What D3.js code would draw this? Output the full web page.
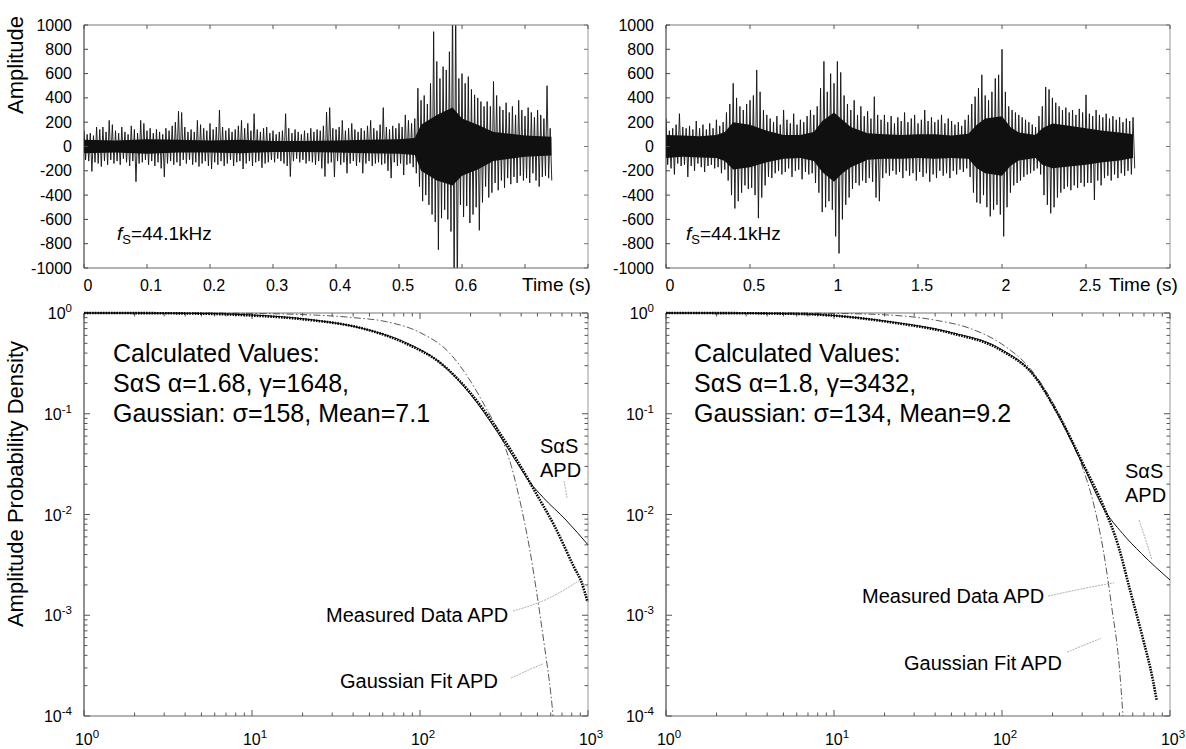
<!DOCTYPE html>
<html><head><meta charset="utf-8">
<script src="https://cdnjs.cloudflare.com/ajax/libs/d3/7.8.5/d3.min.js"></script>
<style>
body{margin:0;background:#fff}
svg{display:block}
text{font-family:"Liberation Sans",Arial,Helvetica,sans-serif;fill:#000}
</style>
</head><body>
<svg id="c" width="1186" height="749"></svg>
<script>
// ---------------- DATA ----------------
const ampTicks = [-1000,-800,-600,-400,-200,0,200,400,600,800,1000];
const timeTicksL = [0,0.1,0.2,0.3,0.4,0.5,0.6];
const timeTicksR = [0,0.5,1,1.5,2,2.5];
const timeMaxL = 0.8, timeMaxR = 3;

// left waveform: peak envelope per 5 ms bin
const binL = 0.005;
const hiL = [130,100,110,90,160,140,160,120,215,180,
 130,110,160,120,100,170,140,110,215,190,
 130,150,110,140,120,100,150,130,170,200,
 290,280,160,120,140,120,215,180,150,130,
 190,140,160,300,160,130,150,120,140,170,
 215,150,190,130,270,140,120,150,160,110,
 130,100,120,130,270,150,110,140,120,100,
 130,110,150,120,140,130,170,283,320,150,
 140,160,215,130,150,190,140,120,150,130,
 170,215,150,130,180,320,160,140,170,150,
 190,160,260,215,190,230,480,380,420,350,
 520,945,700,560,657,630,780,1200,1200,560,
 600,520,575,470,425,400,370,330,370,330,
 535,420,330,300,360,280,330,260,380,300,
 250,320,280,240,300,260,230,500,150];
const loL = [-110,-120,-205,-130,-140,-165,-120,-150,-110,-140,
 -120,-150,-100,-130,-160,-120,-290,-140,-130,-110,
 -150,-120,-160,-130,-180,-250,-140,-120,-150,-130,
 -160,-110,-140,-110,-150,-130,-165,-140,-120,-160,
 -185,-130,-150,-120,-160,-140,-110,-160,-130,-120,
 -185,-140,-120,-160,-130,-120,-175,-140,-130,-110,
 -130,-100,-120,-140,-160,-247,-120,-100,-130,-110,
 -140,-120,-130,-150,-120,-180,-247,-140,-130,-250,
 -120,-150,-130,-220,-140,-120,-160,-130,-220,-140,
 -120,-160,-140,-130,-150,-140,-200,-260,-130,-160,
 -140,-235,-150,-140,-170,-220,-330,-450,-400,-480,
 -560,-620,-850,-590,-520,-600,-700,-1200,-1200,-480,
 -580,-490,-630,-560,-500,-690,-460,-330,-420,-380,
 -300,-360,-280,-340,-260,-310,-250,-300,-240,-280,
 -260,-300,-220,-280,-330,-250,-240,-260,-280];
// left waveform dense core band
const coreL_t  = [0,0.05,0.1,0.15,0.2,0.25,0.3,0.35,0.4,0.45,0.5,0.525,0.535,0.56,0.585,0.6,0.625,0.65,0.7,0.742];
const coreL_hi = [55,50,60,55,50,55,45,45,50,55,60,70,180,260,320,230,180,120,90,80];
const coreL_lo = [-55,-50,-60,-50,-50,-55,-45,-45,-50,-55,-60,-70,-200,-280,-320,-240,-190,-120,-85,-75];

// right waveform: peak envelope per 20 ms bin
const binR = 0.02;
const hiR = [230,130,150,180,270,160,150,170,140,210,
 150,180,140,190,150,220,170,200,280,350,
 520,400,330,300,350,380,420,630,450,300,
 260,230,200,250,180,300,220,190,270,180,
 220,200,250,300,260,330,480,700,450,600,
 520,700,610,420,350,300,380,260,330,250,
 290,230,410,260,220,260,200,250,190,240,
 210,280,200,230,260,190,220,300,210,240,
 200,220,260,190,230,210,180,200,170,220,
 260,350,410,480,590,420,380,450,560,590,
 800,450,330,300,280,260,240,220,200,180,
 160,250,330,490,470,400,360,330,300,320,
 280,300,260,310,280,425,270,250,300,260,
 240,270,230,250,220,240,200,230,210,240];
const loR = [-150,-180,-230,-140,-160,-150,-250,-160,-200,-140,
 -170,-210,-160,-150,-180,-170,-220,-190,-280,-400,
 -510,-450,-380,-320,-350,-340,-400,-590,-420,-320,
 -250,-260,-220,-200,-230,-210,-180,-250,-200,-190,
 -270,-210,-230,-220,-300,-380,-540,-500,-450,-520,
 -740,-880,-600,-480,-420,-350,-300,-320,-280,-300,
 -260,-290,-420,-450,-260,-220,-240,-200,-230,-210,
 -260,-200,-240,-220,-280,-210,-250,-220,-290,-230,
 -260,-200,-240,-220,-260,-200,-230,-190,-210,-180,
 -250,-380,-460,-470,-400,-500,-575,-520,-480,-560,
 -740,-500,-380,-320,-300,-280,-250,-230,-220,-200,
 -180,-230,-400,-480,-550,-500,-420,-380,-350,-330,
 -360,-320,-340,-300,-330,-300,-300,-440,-280,-320,
 -260,-240,-280,-230,-260,-220,-240,-200,-230,-180];
// right waveform dense core band
const coreR_t  = [0,0.1,0.2,0.3,0.35,0.4,0.5,0.6,0.7,0.8,0.88,0.93,1.0,1.05,1.1,1.2,1.3,1.4,1.5,1.6,1.7,1.8,1.85,1.9,2.0,2.05,2.1,2.2,2.24,2.3,2.4,2.5,2.6,2.7,2.78];
const coreR_hi = [95,90,85,95,120,200,180,130,95,95,120,210,280,220,160,110,100,95,100,100,90,105,180,230,250,160,115,95,150,190,170,150,130,115,100];
const coreR_lo = [-95,-85,-90,-95,-120,-190,-170,-130,-100,-95,-120,-210,-290,-220,-170,-110,-100,-100,-95,-100,-95,-100,-180,-220,-240,-160,-115,-95,-150,-180,-165,-150,-130,-115,-95];

// APD curves (amplitude, probability)
const apdTicksX = [1,10,100,1000];
const apdTicksY = [1e-4,1e-3,1e-2,1e-1,1];
const measL_amp = [1,2,5,10,21,46,82,132,200,290,376,490,634,826,918,993];
const measL_p   = [1,0.998,0.985,0.945,0.86,0.70,0.50,0.32,0.16,0.069,0.035,0.0163,0.0076,0.0030,0.0021,0.00136];
const sasL_amp  = [1,2,5,10,21,46,82,132,200,290,376,450,540,740,1000];
const sasL_p    = [1,0.998,0.99,0.955,0.87,0.70,0.51,0.32,0.155,0.065,0.033,0.021,0.0148,0.0088,0.005];
const gaussL_amp= [1,5,10,20,40,63,100,150,200,250,300,350,400,450,500,550,600,620];
const gaussL_p  = [1,0.998,0.99,0.965,0.90,0.82,0.64,0.40,0.21,0.11,0.062,0.030,0.012,0.0045,0.0015,0.0005,0.00017,0.0001];
const measR_amp = [1,2,5,8,22.8,50,98,157,215,309,402,494,578,693,790,832];
const measR_p   = [1,0.998,0.985,0.965,0.80,0.63,0.43,0.233,0.10,0.030,0.012,0.0048,0.00178,0.00057,0.00023,0.000145];
const sasR_amp  = [1,2,5,8,22.8,50,98,157,215,309,402,521,676,1000];
const sasR_p    = [1,0.998,0.985,0.965,0.81,0.64,0.44,0.235,0.098,0.029,0.0115,0.0065,0.0041,0.00224];
const gaussR_amp= [1,5,10,20,40,65,100,150,200,250,300,350,400,450,500,525];
const gaussR_p  = [1,0.998,0.99,0.96,0.85,0.70,0.49,0.27,0.13,0.062,0.030,0.013,0.0045,0.0012,0.0003,0.0001];

const calcL = ["Calculated Values:", "S\u03b1S \u03b1=1.68, \u03b3=1648,", "Gaussian: \u03c3=158, Mean=7.1"];
const calcR = ["Calculated Values:", "S\u03b1S \u03b1=1.8, \u03b3=3432,", "Gaussian: \u03c3=134, Mean=9.2"];

// leader lines: [amp,p] triples
const leadL = {sas:[[719,0.0215],[735,0.018],[750,0.0146]], meas:[[358,0.0011],[578,0.0014],[896,0.00224]], gauss:[[348,0.000238],[450,0.00029],[540,0.00033]]};
const leadR = {sas:[[654,0.0088],[720,0.0055],[781,0.00353]], meas:[[188,0.00155],[330,0.0019],[464,0.0021]], gauss:[[244,0.00043],[320,0.00052],[388,0.00059]]};

// ---------------- DRAW ----------------
const svg = d3.select('#c');
svg.append('rect').attr('width',1186).attr('height',749).attr('fill','#fff');
const FONT_TICK = 16;

function frame(g, p){
  g.append('line').attr('x1',p.x0).attr('x2',p.x1).attr('y1',p.y0).attr('y2',p.y0).attr('stroke','#777').attr('stroke-width',1);
  g.append('line').attr('x1',p.x1).attr('x2',p.x1).attr('y1',p.y0).attr('y2',p.y1).attr('stroke','#999').attr('stroke-width',1);
  g.append('line').attr('x1',p.x0).attr('x2',p.x1).attr('y1',p.y1).attr('y2',p.y1).attr('stroke','#666').attr('stroke-width',1);
  g.append('line').attr('x1',p.x0).attr('x2',p.x0).attr('y1',p.y0).attr('y2',p.y1).attr('stroke','#222').attr('stroke-width',1);
}

function wavePanel(p, tmax, tTicks, hi, lo, bin, core, id, sw){
  const x = d3.scaleLinear().domain([0,tmax]).range([p.x0,p.x1]);
  const y = d3.scaleLinear().domain([-1000,1000]).range([p.y1,p.y0]);
  const g = svg.append('g');
  g.append('clipPath').attr('id',id).append('rect')
    .attr('x',p.x0).attr('y',p.y0).attr('width',p.x1-p.x0).attr('height',p.y1-p.y0);
  const cg = g.append('g').attr('clip-path',`url(#${id})`);
  const area = d3.area().x(d=>x(d[0])).y0(d=>y(d[2])).y1(d=>y(d[1])).curve(d3.curveLinear);
  cg.append('path').attr('d', area(d3.zip(core[0],core[1],core[2]))).attr('fill','#111');
  const pts = [];
  hi.forEach((h,i)=>{ pts.push([i*bin,h]); pts.push([i*bin+bin/2, lo[i]]); });
  cg.append('path')
    .attr('d', d3.line().x(d=>x(d[0])).y(d=>y(d[1]))(pts))
    .attr('fill','none').attr('stroke','#111').attr('stroke-width',sw).attr('stroke-linejoin','miter');
  frame(g,p);
  g.selectAll('.yt').data(ampTicks).enter().append('line')
    .attr('x1',p.x0).attr('x2',p.x0+4).attr('y1',d=>y(d)).attr('y2',d=>y(d)).attr('stroke','#444');
  g.selectAll('.yt2').data(ampTicks).enter().append('line')
    .attr('x1',p.x1).attr('x2',p.x1-4).attr('y1',d=>y(d)).attr('y2',d=>y(d)).attr('stroke','#777');
  g.selectAll('.yl').data(ampTicks).enter().append('text')
    .attr('x',p.x0-12).attr('y',d=>y(d)+5.5).attr('text-anchor','end').attr('font-size',FONT_TICK)
    .text(d=>String(d));
  const allT = d3.range(0, tmax+1e-9, tTicks[1]-tTicks[0]);
  g.selectAll('.xt').data(allT).enter().append('line')
    .attr('x1',d=>x(d)).attr('x2',d=>x(d)).attr('y1',p.y0).attr('y2',p.y0+4).attr('stroke','#555');
  g.selectAll('.xt2').data(allT).enter().append('line')
    .attr('x1',d=>x(d)).attr('x2',d=>x(d)).attr('y1',p.y1).attr('y2',p.y1-4).attr('stroke','#555');
  g.selectAll('.xl').data(tTicks).enter().append('text')
    .attr('x',d=>x(d)+4).attr('y',p.y1+23).attr('text-anchor','middle').attr('font-size',FONT_TICK)
    .text(d=>String(d));
  return {x,y,g};
}

function fsLabel(x0,y0){
  const t = svg.append('text').attr('x',x0).attr('y',y0).attr('font-size',19);
  t.append('tspan').attr('font-style','italic').text('f');
  t.append('tspan').attr('font-size',13).attr('dy',4).text('S');
  t.append('tspan').attr('dy',-4).text('=44.1kHz');
}

function supLabel(g, x, y, exp, anchor){
  const t = g.append('text').attr('x',x).attr('y',y).attr('text-anchor',anchor).attr('font-size',FONT_TICK);
  t.append('tspan').text('10');
  t.append('tspan').attr('font-size',11.5).attr('dy',-7).text(String(exp));
}

function apdPanel(p, meas, sas, gauss, calc, lead, lbl){
  const x = d3.scaleLog().domain([1,1000]).range([p.x0,p.x1]);
  const y = d3.scaleLog().domain([1e-4,1]).range([p.y1,p.y0]);
  const g = svg.append('g');
  const id = 'clip'+p.x0;
  g.append('clipPath').attr('id',id).append('rect')
    .attr('x',p.x0).attr('y',p.y0-2).attr('width',p.x1-p.x0+1).attr('height',p.y1-p.y0+2);
  frame(g,p);
  const xt = x.ticks(), yt = y.ticks();
  const isMajor = v => Math.abs(Math.log10(v)-Math.round(Math.log10(v)))<1e-6;
  [p.y0,p.y1].forEach((yy,k)=>{
    g.selectAll(null).data(xt).enter().append('line')
      .attr('x1',d=>x(d)).attr('x2',d=>x(d)).attr('y1',yy).attr('y2',d=>yy+(k?-1:1)*(isMajor(d)?6:3.5)).attr('stroke','#555');
  });
  [p.x0,p.x1].forEach((xx,k)=>{
    g.selectAll(null).data(yt).enter().append('line')
      .attr('y1',d=>y(d)).attr('y2',d=>y(d)).attr('x1',xx).attr('x2',d=>xx+(k?-1:1)*(isMajor(d)?6:3.5)).attr('stroke','#555');
  });
  apdTicksX.forEach(v=>supLabel(g, x(v)+3, p.y1+29, Math.round(Math.log10(v)), 'middle'));
  apdTicksY.forEach(v=>supLabel(g, p.x0-12, y(v)+6, Math.round(Math.log10(v)), 'end'));
  const line = d3.line().x(d=>x(d[0])).y(d=>y(d[1])).curve(d3.curveMonotoneX);
  const cg = g.append('g').attr('clip-path',`url(#${id})`);
  cg.append('path').attr('d',line(d3.zip(gauss[0],gauss[1]))).attr('fill','none')
    .attr('stroke','#444').attr('stroke-width',0.9).attr('stroke-dasharray','7 2.5 1.5 2.5');
  cg.append('path').attr('d',line(d3.zip(sas[0],sas[1]))).attr('fill','none')
    .attr('stroke','#111').attr('stroke-width',1);
  cg.append('path').attr('d',line(d3.zip(meas[0],meas[1]))).attr('fill','none')
    .attr('stroke','#000').attr('stroke-width',2.6).attr('stroke-dasharray','1.6 1.1');
  const lline = d3.line().x(d=>x(d[0])).y(d=>y(d[1])).curve(d3.curveBasis);
  Object.values(lead).forEach(L=>{
    g.append('path').attr('d',lline(L)).attr('fill','none').attr('stroke','#999')
      .attr('stroke-width',0.8).attr('stroke-dasharray','2 1');
  });
  calc.forEach((s,i)=>{
    g.append('text').attr('x',lbl.cx).attr('y',362+i*30).attr('font-size',25).text(s);
  });
  g.append('text').attr('x',lbl.sx).attr('y',lbl.sy).attr('font-size',20).text('S\u03b1S');
  g.append('text').attr('x',lbl.sx).attr('y',lbl.sy+24).attr('font-size',20).text('APD');
  g.append('text').attr('x',lbl.mx).attr('y',lbl.my).attr('font-size',20).text('Measured Data APD');
  g.append('text').attr('x',lbl.gx).attr('y',lbl.gy).attr('font-size',20).text('Gaussian Fit APD');
}

const P = {
  tl:{x0:84,x1:588,y0:25,y1:268},
  tr:{x0:666,x1:1170,y0:25,y1:268},
  bl:{x0:84,x1:588,y0:313,y1:716},
  br:{x0:666,x1:1170,y0:313,y1:716}
};

wavePanel(P.tl, timeMaxL, timeTicksL, hiL, loL, binL, [coreL_t,coreL_hi,coreL_lo], 'cl', 0.9);
wavePanel(P.tr, timeMaxR, timeTicksR, hiR, loR, binR, [coreR_t,coreR_hi,coreR_lo], 'cr', 0.9);
fsLabel(117,240); fsLabel(686,240);
svg.append('text').attr('x',522).attr('y',291).attr('font-size',19).text('Time (s)');
svg.append('text').attr('x',1109).attr('y',291).attr('font-size',19).text('Time (s)');
svg.append('text').attr('transform','translate(23,65) rotate(-90)').attr('text-anchor','middle').attr('font-size',22).text('Amplitude');
svg.append('text').attr('transform','translate(23,484) rotate(-90)').attr('text-anchor','middle').attr('font-size',22).text('Amplitude Probability Density');

apdPanel(P.bl, [measL_amp,measL_p],[sasL_amp,sasL_p],[gaussL_amp,gaussL_p], calcL, leadL,
  {cx:113, sx:540, sy:453, mx:326, my:622, gx:340, gy:688});
apdPanel(P.br, [measR_amp,measR_p],[sasR_amp,sasR_p],[gaussR_amp,gaussR_p], calcR, leadR,
  {cx:694, sx:1125, sy:478, mx:862, my:603, gx:904, gy:670});
</script>
</body></html>
